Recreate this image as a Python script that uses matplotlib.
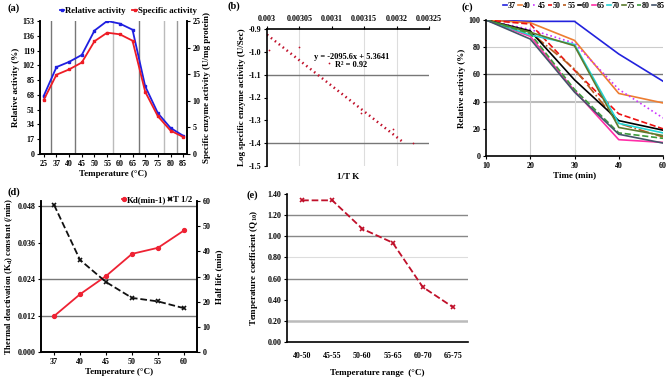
import matplotlib
matplotlib.use("Agg")
import matplotlib.pyplot as plt
import numpy as np

plt.rcParams['font.family'] = ['Liberation Serif', 'DejaVu Serif']
plt.rcParams['font.weight'] = 'bold'
plt.rcParams['axes.labelweight'] = 'bold'
plt.rcParams['mathtext.fontset'] = 'custom'
plt.rcParams['mathtext.rm'] = 'Liberation Serif'
plt.rcParams['mathtext.bf'] = 'Liberation Serif:bold'

# (a) temperature profile
temps_a = ['25', '37', '40', '45', '50', '55', '60', '65', '70', '75', '80', '85']
relative_activity = [67, 100, 106, 114, 142, 153, 150, 143, 78, 47, 30, 21]
specific_activity = [10.2, 14.9, 15.9, 17.2, 21.2, 22.8, 22.5, 21.3, 11.7, 7.1, 4.4, 3.2]

# (b) Arrhenius plot
inv_T = [0.003003, 0.003049, 0.003096, 0.003145, 0.003195, 0.003226]
log_activity = [-0.993, -0.978, -1.047, -1.266, -1.34, -1.40]
trend_x = [0.003, 0.003212]
trend_y = [-0.925, -1.40]

# (c) thermal stability
times_c = ['10', '20', '30', '40', '60']
stab_temps = ['37', '40', '45', '50', '55', '60', '65', '70', '75', '80', '85']
stab_values = [
    [100, 99, 99, 75, 55],
    [100, 98, 85, 46, 39],
    [100, 93, 83, 49, 28],
    [100, 97, 63, 31, 20],
    [100, 91, 64, 24, 14],
    [100, 92, 56, 26, 19],
    [100, 88, 48, 12, 10],
    [100, 89, 82, 24, 17],
    [100, 91, 81, 21, 15],
    [100, 90, 49, 17, 13],
    [100, 86, 47, 16, 9.5],
]
stab_colors = ['#2222DD', '#ED7D31', '#CC33FF', '#EE1111', '#B85C1F', '#000000',
               '#FF2FA8', '#22D3D3', '#5B7B2E', '#3C9A3C', '#44546A']
stab_styles = ['-', '-', ':', '--', '-.', '-', '-', '-', '-', '--', '-']

# (d) deactivation constant and half life
temps_d = ['37', '40', '45', '50', '55', '60']
kd = [0.0118, 0.0190, 0.0250, 0.0323, 0.0343, 0.0400]
half_life = [58.5, 36.6, 27.8, 21.5, 20.1, 17.4]

# (e) Q10
ranges_e = ['40-50', '45-55', '50-60', '55-65', '60-70', '65-75']
q10 = [1.34, 1.34, 1.07, 0.94, 0.52, 0.33]

W, H = 669, 379
fig = plt.figure(figsize=(W / 100, H / 100), dpi=100)


def px_axes(l, t, w, h):
    return fig.add_axes([l / W, 1 - (t + h) / H, w / W, h / H])


def excel_style(ax, sides=('left', 'bottom')):
    for s in ('left', 'right', 'top', 'bottom'):
        ax.spines[s].set_visible(s in sides)
        ax.spines[s].set_linewidth(1.2)
    ax.tick_params(labelsize=5.8, width=0.8, length=2.5, pad=1.5)


lab_font = dict(fontsize=6.5, fontweight='bold')
tag_font = dict(fontsize=7.5, fontweight='bold', va='center')

# ---- (a)
ax = px_axes(40, 21, 147, 133)
excel_style(ax, ('left', 'bottom', 'right'))
xa = np.arange(len(temps_a))
for v, c in [(0.55, '#777777'), (2.5, '#777777'), (5.5, '#BBBBBB'),
             (7.55, '#777777'), (9.5, '#BBBBBB'), (10.55, '#999999')]:
    ax.axvline(v, color=c, lw=1.0, zorder=0)
l1, = ax.plot(xa, relative_activity, color='#1F1FE0', lw=1.3, marker='s', ms=2,
              label='Relative activity')
ax.set_ylim(0, 153)
ax.set_yticks(np.arange(0, 154, 17))
ax.set_xlim(-0.3, 11.3)
ax.set_xticks(xa)
ax.set_xticklabels(temps_a)
ax.set_ylabel('Relative activity (%)', labelpad=2, **lab_font)
ax.set_xlabel('Temperature (°C)', labelpad=2, **lab_font)
ax2 = ax.twinx()
excel_style(ax2, ('left', 'bottom', 'right'))
l2, = ax2.plot(xa, specific_activity, color='#EE1C25', lw=1.3, marker='s', ms=2,
               label='Specific activity')
ax2.set_ylim(0, 25)
ax2.set_yticks(np.arange(0, 26, 5))
ax2.set_ylabel('Specific enzyme activity (U/mg protein)', labelpad=2, **lab_font)
fig.legend([l1, l2], ['Relative activity', 'Specific activity'], loc='center',
           bbox_to_anchor=(128 / W, 1 - 11 / H), ncol=2, frameon=False,
           fontsize=6.3, handlelength=0.5, handletextpad=0.1, columnspacing=0.8,
           borderpad=0, borderaxespad=0)
fig.text(8 / W, 1 - 8 / H, '(a)', **tag_font)

# ---- (b)
ax = px_axes(267, 29, 162, 137)
excel_style(ax, ('left', 'top'))
for v in (0.00305, 0.00315, 0.0032):
    ax.axvline(v, color='#DDDDDD', lw=0.8, zorder=0)
for v in (-1.1, -1.4):
    ax.axhline(v, color='#777777', lw=1.0, zorder=0)
ax.scatter(inv_T, log_activity, s=1.6, color='#C0102A', zorder=3, linewidths=0)
ax.plot(trend_x, trend_y, color='#C0102A', lw=1.8, ls=(0, (0.6, 1.4)))
ax.set_xlim(0.003, 0.00325)
ax.set_ylim(-1.5, -0.9)
ax.set_xticks([0.003, 0.00305, 0.0031, 0.00315, 0.0032, 0.00325])
ax.set_xticklabels(['0.003', '0.00305', '0.0031', '0.00315', '0.0032', '0.00325'])
ax.set_yticks(np.arange(-1.5, -0.85, 0.1))
ax.set_yticklabels(['%.1f' % v for v in np.arange(-1.5, -0.85, 0.1)])
ax.xaxis.tick_top()
ax.set_xlabel('1/T K', labelpad=5, **lab_font)
ax.set_ylabel('Log specific enzyme activity (U/Sec)', labelpad=2, **lab_font)
ax.text(0.00313, -1.021, 'y = -2095.6x + 5.3641', ha='center', va='center', fontsize=6,
        fontweight='bold')
ax.text(0.00313, -1.058, 'R² = 0.92', ha='center', va='center', fontsize=6,
        fontweight='bold')
fig.text(228 / W, 1 - 6 / H, '(b)', **tag_font)

# ---- (c)
ax = px_axes(486, 20, 177, 136)
excel_style(ax)
xc = np.arange(len(times_c))
ax.axhline(80, color='#CCCCCC', lw=0.8, zorder=0)
ax.axhline(60, color='#777777', lw=1.0, zorder=0)
ax.axhline(40, color='#BBBBBB', lw=1.5, zorder=0)
ax.axvline(1, color='#CCCCCC', lw=0.8, zorder=0)
ax.axvline(2, color='#DDDDDD', lw=0.8, zorder=0)
handles = []
for name, vals, c, st in zip(stab_temps, stab_values, stab_colors, stab_styles):
    h, = ax.plot(xc, vals, color=c, ls=st, lw=1.2, label=name)
    handles.append(h)
ax.set_xlim(0, 4)
ax.set_ylim(0, 100)
ax.set_xticks(xc)
ax.set_xticklabels(times_c)
ax.set_yticks(np.arange(0, 101, 20))
ax.set_xlabel('Time (min)', labelpad=1, **lab_font)
ax.set_ylabel('Relative activity (%)', labelpad=2, **lab_font)
fig.legend(handles, stab_temps, loc='center', bbox_to_anchor=(584 / W, 1 - 6 / H),
           ncol=11, frameon=False, fontsize=5.8, handlelength=0.45, handletextpad=0.1,
           columnspacing=0.3, borderpad=0, borderaxespad=0)
fig.text(461 / W, 1 - 7 / H, '(c)', **tag_font)

# ---- (d)
ax = px_axes(41, 201, 156, 151)
excel_style(ax, ('left', 'bottom', 'right'))
xd = np.arange(len(temps_d))
for v in (0.012, 0.024, 0.048):
    ax.axhline(v, color='#777777', lw=1.0, zorder=0)
h1, = ax.plot(xd, kd, color='#EE2233', lw=1.3, marker='o', ms=2.8)
ax.set_ylim(0, 0.0497)
ax.set_yticks(np.arange(0, 0.049, 0.012))
ax.set_yticklabels(['%.3f' % v for v in np.arange(0, 0.049, 0.012)])
ax.set_xlim(-0.5, 5.5)
ax.set_xticks(xd)
ax.set_xticklabels(temps_d)
ax.set_xlabel('Temperature (°C)', labelpad=2, **lab_font)
ax.set_ylabel('Thermal deactivation (K$_\\mathbf{d}$) constant (/min)', labelpad=2,
              fontsize=6.2, fontweight='bold')
ax2 = ax.twinx()
excel_style(ax2, ('left', 'bottom', 'right'))
h2, = ax2.plot(xd, half_life, color='#111111', lw=1.3, ls='--', marker='x', ms=3.2,
               mew=1.2)
ax2.set_ylim(0, 60)
ax2.set_yticks(np.arange(0, 61, 10))
ax2.set_ylabel('Half life (min)', labelpad=3, **lab_font)
fig.legend([h1, h2], ['Kd(min-1)', 'T 1/2'], loc='center',
           bbox_to_anchor=(157 / W, 1 - 200 / H), ncol=2, frameon=False, fontsize=6.3,
           handlelength=0.5, handletextpad=0.1, columnspacing=0.2, borderpad=0,
           borderaxespad=0)
fig.text(7 / W, 1 - 192 / H, '(d)', **tag_font)

# ---- (e)
ax = px_axes(287, 194, 181, 148)
excel_style(ax)
xe = np.arange(len(ranges_e))
for v, c, w in [(1.2, '#888888', 1.0), (1.0, '#888888', 1.0), (0.8, '#DDDDDD', 0.8),
                (0.6, '#888888', 1.0), (0.2, '#BBBBBB', 1.8)]:
    ax.axhline(v, color=c, lw=w, zorder=0)
ax.plot(xe, q10, color='#C0102A', lw=1.3, ls='--', marker='x', ms=3.5, mew=1.2)
ax.set_ylim(0, 1.4)
ax.set_yticks(np.arange(0, 1.41, 0.2))
ax.set_yticklabels(['%.2f' % v for v in np.arange(0, 1.41, 0.2)])
ax.set_xlim(-0.5, 5.5)
ax.set_xticks(xe)
ax.set_xticklabels(ranges_e)
ax.tick_params(axis='x', length=0, pad=7)
ax.set_xlabel('Temperature range  (°C)', labelpad=7, **lab_font)
ax.set_ylabel('Temperature coefficient (Q$_\\mathbf{10}$)', labelpad=5, **lab_font)
fig.text(247 / W, 1 - 195 / H, '(e)', **tag_font)

fig.savefig('out.png', dpi=100)
